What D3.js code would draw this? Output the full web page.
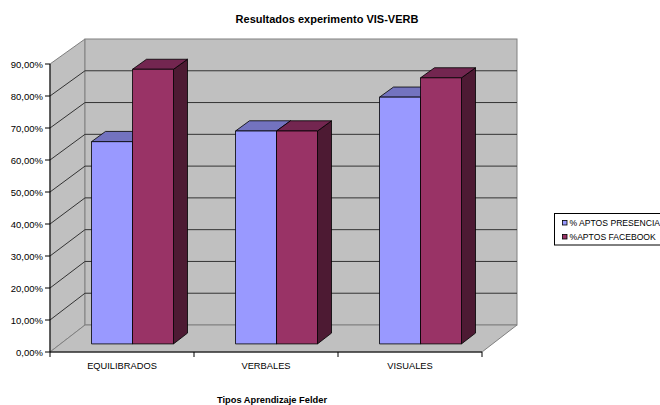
<!DOCTYPE html>
<html><head><meta charset="utf-8">
<script src="https://cdn.jsdelivr.net/npm/d3@7"></script>
<style>html,body{margin:0;padding:0;background:#fff;overflow:hidden}svg{display:block;font-family:"Liberation Sans",Arial,sans-serif}</style>
</head><body>
<svg id="c" width="660" height="405"></svg>
<script>
const categories = ["EQUILIBRADOS", "VERBALES", "VISUALES"];
const seriesNames = ["% APTOS PRESENCIA", "%APTOS FACEBOOK"];
const presencia = [0.6333, 0.6667, 0.7727];
const facebook = [0.86, 0.6667, 0.8333];
const tickValues = [0, 0.1, 0.2, 0.3, 0.4, 0.5, 0.6, 0.7, 0.8, 0.9];
const titleText = "Resultados experimento VIS-VERB";
const xTitleText = "Tipos Aprendizaje Felder";

const frontCol = ["#9999FF", "#993366"], topCol = ["#7373BF", "#732650"], sideCol = ["#4D4D80", "#4D1A33"];

const svg = d3.select("#c");
const X0 = 50, X1 = 482, DX = 35;
const yF = d3.scaleLinear().domain([0, 0.9]).range([352, 64]);
const yB = d3.scaleLinear().domain([0, 0.9]).range([325, 39]);
const yAt = (v, t) => yF(v) + t * (yB(v) - yF(v));
const x0 = d3.scaleBand().domain(categories).range([X0, X1]);
const x1 = d3.scaleBand().domain(seriesNames).range([31, 113]);
const pt = (p) => p.map(d => d.join(",")).join(" ");

// walls
const wallFill = "#C0C0C0", wallStroke = "#808080";
svg.append("polygon").attr("points", pt([[X0, yF(0.9)], [X0 + DX, yB(0.9)], [X0 + DX, yB(0)], [X0, yF(0)]]))
  .attr("fill", wallFill).attr("stroke", wallStroke);
svg.append("rect").attr("x", X0 + DX).attr("y", yB(0.9)).attr("width", X1 - X0).attr("height", yB(0) - yB(0.9))
  .attr("fill", wallFill).attr("stroke", wallStroke);
svg.append("polygon").attr("points", pt([[X0, yF(0)], [X1, yF(0)], [X1 + DX, yB(0)], [X0 + DX, yB(0)]]))
  .attr("fill", wallFill).attr("stroke", wallStroke);

// gridlines
tickValues.forEach(v => {
  if (v > 0 && v < 0.9) {
    svg.append("line").attr("x1", X0).attr("y1", yF(v)).attr("x2", X0 + DX).attr("y2", yB(v)).attr("stroke", "#333");
    svg.append("line").attr("x1", X0 + DX).attr("y1", yB(v)).attr("x2", X1 + DX).attr("y2", yB(v)).attr("stroke", "#333");
  }
});

// bars
const t0 = 0.3, t1 = 0.7;
const data = [presencia, facebook];
categories.forEach((c, i) => {
  seriesNames.forEach((s, j) => {
    const v = data[j][i];
    const xl = x0(c) + x1(s) + DX * t0, xr = xl + x1.bandwidth();
    const dxx = DX * (t1 - t0);
    const yb = yAt(0, t0), yt = yAt(v, t0);
    const ytb = yAt(v, t1), ybb = yAt(0, t1);
    const g = svg.append("g").attr("stroke", "#000").attr("stroke-width", 0.8).attr("stroke-linejoin", "round");
    g.append("polygon").attr("points", pt([[xr, yt], [xr + dxx, ytb], [xr + dxx, ybb], [xr, yb]])).attr("fill", sideCol[j]);
    g.append("polygon").attr("points", pt([[xl, yt], [xl + dxx, ytb], [xr + dxx, ytb], [xr, yt]])).attr("fill", topCol[j]);
    g.append("rect").attr("x", xl).attr("y", yt).attr("width", xr - xl).attr("height", yb - yt).attr("fill", frontCol[j]);
  });
});

// axes
const loc = d3.formatLocale({decimal: ",", thousands: ".", grouping: [3], currency: ["", "€"]});
const fmt = loc.format(".2%");
svg.append("line").attr("x1", X0).attr("y1", yF(0)).attr("x2", X0).attr("y2", yF(0.9)).attr("stroke", "#000");
svg.append("line").attr("x1", X0).attr("y1", yF(0)).attr("x2", X1).attr("y2", yF(0)).attr("stroke", "#000");
tickValues.forEach(v => {
  svg.append("line").attr("x1", X0 - 5).attr("x2", X0).attr("y1", yF(v)).attr("y2", yF(v)).attr("stroke", "#000");
  svg.append("text").attr("x", X0 - 7).attr("y", yF(v) + 3.5).attr("text-anchor", "end")
    .attr("font-size", "9.5px").attr("fill", "#000").text(fmt(v));
});
[...categories.map(c => x0(c)), X1].forEach(x => {
  svg.append("line").attr("x1", x).attr("x2", x).attr("y1", yF(0)).attr("y2", yF(0) + 5).attr("stroke", "#000");
});
categories.forEach(c => {
  svg.append("text").attr("x", x0(c) + x0.bandwidth() / 2).attr("y", 368.5).attr("text-anchor", "middle")
    .attr("font-size", "9.3px").attr("fill", "#000").text(c);
});

// titles
svg.append("text").attr("x", 327).attr("y", 22.5).attr("text-anchor", "middle")
  .attr("font-size", "11px").attr("font-weight", "bold").text(titleText);
svg.append("text").attr("x", 272).attr("y", 403).attr("text-anchor", "middle")
  .attr("font-size", "9.3px").attr("font-weight", "bold").text(xTitleText);

// legend
svg.append("rect").attr("x", 554.5).attr("y", 213.5).attr("width", 120).attr("height", 31.5)
  .attr("fill", "#fff").attr("stroke", "#000");
seriesNames.forEach((s, j) => {
  const y = 220 + j * 14;
  svg.append("rect").attr("x", 562.5).attr("y", y + 0.5).attr("width", 4.5).attr("height", 4.5)
    .attr("fill", frontCol[j]).attr("stroke", "#000").attr("stroke-width", 0.8);
  svg.append("text").attr("x", 569.5).attr("y", y + 5.8).attr("font-size", "8.6px").attr("fill", "#000").text(s);
});
</script>
</body></html>
